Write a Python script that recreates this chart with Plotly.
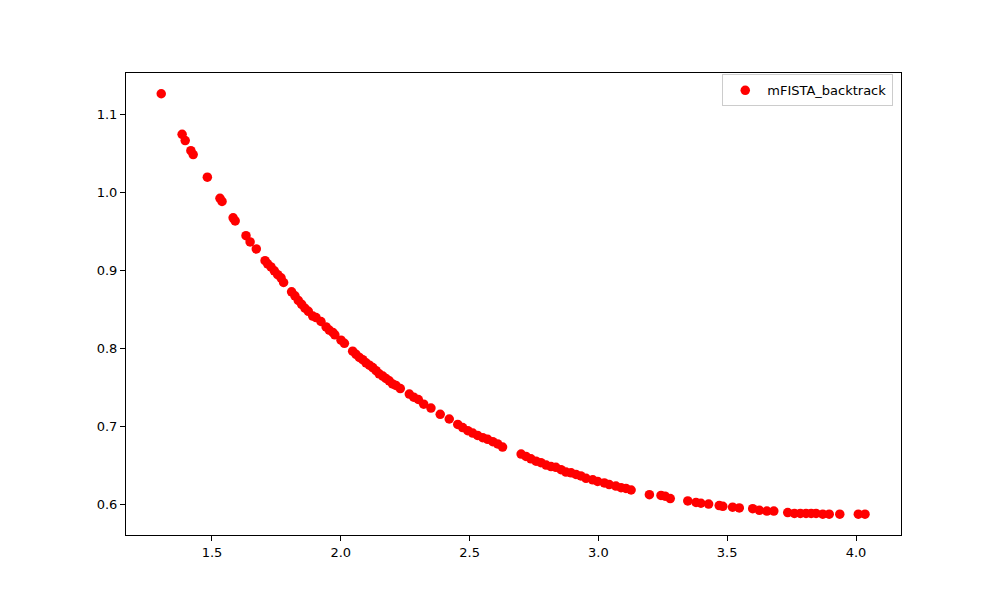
import plotly.graph_objects as go

# values
x_vals = [
    1.303, 1.384, 1.396, 1.418, 1.427, 1.482, 1.531, 1.539, 1.582, 1.590,
    1.632, 1.648, 1.672, 1.706, 1.716, 1.729, 1.742, 1.755, 1.768, 1.778,
    1.809, 1.822, 1.835, 1.848, 1.861, 1.874, 1.891, 1.904, 1.923, 1.943,
    1.955, 1.969, 1.977, 2.001, 2.014, 2.046, 2.059, 2.072, 2.085, 2.098,
    2.111, 2.124, 2.137, 2.149, 2.163, 2.175, 2.188, 2.201, 2.214, 2.231,
    2.266, 2.283, 2.301, 2.322, 2.350, 2.386, 2.421, 2.454, 2.473, 2.493,
    2.512, 2.531, 2.551, 2.570, 2.590, 2.609, 2.628, 2.700, 2.719, 2.738,
    2.758, 2.777, 2.797, 2.816, 2.835, 2.855, 2.874, 2.894, 2.913, 2.932,
    2.952, 2.978, 2.997, 3.023, 3.042, 3.068, 3.088, 3.107, 3.127, 3.198,
    3.243, 3.259, 3.279, 3.347, 3.379, 3.398, 3.428, 3.469, 3.483, 3.521,
    3.547, 3.599, 3.625, 3.654, 3.681, 3.735, 3.761, 3.784, 3.806, 3.826,
    3.845, 3.871, 3.896, 3.937, 4.009, 4.035,
]
y_vals = [
    1.126, 1.074, 1.066, 1.053, 1.048, 1.019, 0.992, 0.988, 0.967, 0.963,
    0.944, 0.936, 0.927, 0.912, 0.908, 0.904, 0.899, 0.894, 0.890, 0.884,
    0.872, 0.867, 0.861, 0.856, 0.851, 0.847, 0.841, 0.839, 0.834, 0.827,
    0.823, 0.820, 0.817, 0.810, 0.806, 0.796, 0.792, 0.788, 0.785, 0.781,
    0.778, 0.775, 0.771, 0.767, 0.764, 0.761, 0.758, 0.754, 0.752, 0.748,
    0.741, 0.737, 0.734, 0.728, 0.723, 0.715, 0.709, 0.702, 0.698, 0.694,
    0.691, 0.688, 0.685, 0.683, 0.680, 0.677, 0.673, 0.664, 0.661, 0.658,
    0.655, 0.653, 0.650, 0.648, 0.647, 0.644, 0.641, 0.640, 0.638, 0.636,
    0.633, 0.631, 0.629, 0.627, 0.625, 0.623, 0.621, 0.620, 0.618, 0.612,
    0.611, 0.610, 0.607, 0.604, 0.602, 0.601, 0.600, 0.598, 0.597, 0.596,
    0.595, 0.594, 0.592, 0.591, 0.591, 0.589, 0.588, 0.588, 0.588, 0.588,
    0.588, 0.587, 0.587, 0.587, 0.587, 0.587,
]
series_name = "mFISTA_backtrack"
x_ticks = [1.5, 2.0, 2.5, 3.0, 3.5, 4.0]
y_ticks = [0.6, 0.7, 0.8, 0.9, 1.0, 1.1]

fig = go.Figure()
fig.add_trace(go.Scatter(
    x=x_vals, y=y_vals, mode="markers", name=series_name,
    marker=dict(color="red", size=9.5, line=dict(width=0)),
))

axis_style = dict(
    showgrid=False, zeroline=False, showline=True, linecolor="black",
    linewidth=1, mirror=True, ticks="outside", ticklen=5, tickcolor="black",
    tickfont=dict(family="DejaVu Sans", size=13, color="black"),
    tickformat=".1f",
)

# page body adds ~7px offset, so margins are trimmed to land the axes at 125..900 / 72..534
fig.update_layout(
    width=1000, height=600, autosize=False,
    margin=dict(l=118, r=107, t=65, b=73),
    plot_bgcolor="white", paper_bgcolor="white",
    font=dict(family="DejaVu Sans", size=13, color="black"),
    showlegend=True,
    legend=dict(x=0.99, y=0.997, xanchor="right", yanchor="top",
                bordercolor="#cccccc", borderwidth=1, bgcolor="white",
                font=dict(size=13), itemwidth=34),
    xaxis=dict(range=[1.1662, 4.1747], tickvals=x_ticks, **axis_style),
    yaxis=dict(range=[0.5603, 1.1526], tickvals=y_ticks, **axis_style),
)

fig.write_html("out.html")
